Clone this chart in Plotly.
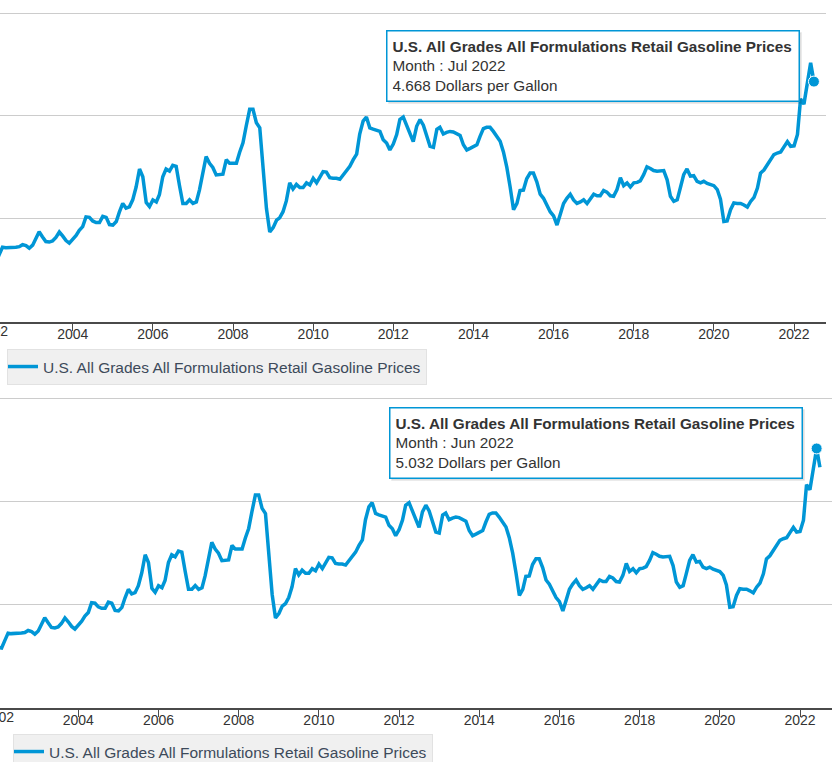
import pandas as pd
import plotly.graph_objects as go

# ---- data (U.S. All Grades All Formulations Retail Gasoline Prices, $/gal, monthly) ----
series_name = "U.S. All Grades All Formulations Retail Gasoline Prices"
start_month = "2002-01-01"
y2002 = [1.17, 1.16, 1.30, 1.45, 1.44, 1.44, 1.45, 1.45, 1.46, 1.50, 1.48, 1.43]
y2003 = [1.49, 1.64, 1.75, 1.65, 1.56, 1.55, 1.57, 1.64, 1.745, 1.67, 1.58, 1.53]
y2004 = [1.60, 1.68, 1.78, 1.85, 2.04, 2.03, 1.96, 1.93, 1.93, 2.05, 2.03, 1.89]
y2005 = [1.88, 1.95, 2.13, 2.30, 2.21, 2.235, 2.37, 2.62, 2.97, 2.82, 2.32, 2.24]
y2006 = [2.37, 2.33, 2.47, 2.82, 2.97, 2.93, 3.04, 3.02, 2.64, 2.30, 2.30, 2.37]
y2007 = [2.30, 2.33, 2.56, 2.90, 3.21, 3.08, 3.00, 2.855, 2.86, 2.87, 3.15, 3.08]
y2008 = [3.08, 3.08, 3.29, 3.48, 3.81, 4.13, 4.13, 3.87, 3.77, 3.05, 2.20, 1.745]
y2009 = [1.83, 1.975, 2.02, 2.14, 2.35, 2.70, 2.58, 2.67, 2.61, 2.61, 2.70, 2.66]
y2010 = [2.79, 2.70, 2.82, 2.92, 2.91, 2.80, 2.79, 2.79, 2.77, 2.85, 2.93, 3.02]
y2011 = [3.15, 3.26, 3.65, 3.90, 3.98, 3.77, 3.745, 3.73, 3.70, 3.54, 3.475, 3.34]
y2012 = [3.455, 3.64, 3.93, 3.98, 3.82, 3.64, 3.50, 3.80, 3.93, 3.82, 3.58, 3.41]
y2013 = [3.39, 3.74, 3.78, 3.65, 3.68, 3.70, 3.69, 3.66, 3.62, 3.44, 3.34, 3.37]
y2014 = [3.41, 3.44, 3.60, 3.755, 3.78, 3.78, 3.70, 3.60, 3.51, 3.30, 3.00, 2.62]
y2015 = [2.18, 2.30, 2.55, 2.56, 2.78, 2.89, 2.89, 2.72, 2.48, 2.40, 2.26, 2.14]
y2016 = [2.06, 1.88, 2.08, 2.30, 2.40, 2.48, 2.37, 2.30, 2.33, 2.37, 2.30, 2.40]
y2017 = [2.48, 2.45, 2.45, 2.55, 2.52, 2.45, 2.44, 2.57, 2.80, 2.645, 2.70, 2.62]
y2018 = [2.70, 2.71, 2.74, 2.86, 3.01, 2.98, 2.94, 2.925, 2.93, 2.94, 2.76, 2.44]
y2019 = [2.34, 2.37, 2.60, 2.86, 2.97, 2.83, 2.84, 2.73, 2.70, 2.73, 2.69, 2.66]
y2020 = [2.645, 2.57, 2.385, 1.95, 1.96, 2.18, 2.31, 2.30, 2.30, 2.27, 2.23, 2.34]
y2021 = [2.42, 2.60, 2.89, 2.95, 3.05, 3.15, 3.25, 3.28, 3.30, 3.40, 3.50, 3.41]
y2022 = [3.42, 3.64, 4.33, 4.23, 4.58, 5.032, 4.668]

values = (y2002 + y2003 + y2004 + y2005 + y2006 + y2007 + y2008 + y2009 + y2010 +
          y2011 + y2012 + y2013 + y2014 + y2015 + y2016 + y2017 + y2018 + y2019 +
          y2020 + y2021 + y2022)
months = pd.date_range(start_month, periods=len(values), freq="MS")

hover_top_idx = len(values) - 1   # Jul 2022
hover_bot_idx = len(values) - 2   # Jun 2022

x_range_top = ["2002-03-09 07:00", "2022-10-19"]
x_range_bot = ["2002-01-17 12:00", "2022-10-19"]
y_range = [0, 6.04]   # a hair above 6 so the top gridline is drawn
y_dtick = 2
clipped_tick = "2002-01-01"

# ---- styles / geometry ----
BLUE = "#0096D6"
FONT = "Liberation Sans, Arial, sans-serif"
W, H = 835, 770
TARGET_H = 762
S = H / TARGET_H          # vertical compensation (page is photographed at 762 tall)

def py(v):                # target pixel row -> layout pixel row
    return v * S

fig = go.Figure()

for xa, ya, lg in (("x", "y", "legend"), ("x2", "y2", "legend2")):
    fig.add_trace(go.Scatter(
        x=months, y=values, mode="lines", name=series_name,
        line=dict(color=BLUE, width=3.5), xaxis=xa, yaxis=ya, legend=lg,
        hoverinfo="skip"))

for xa, ya, idx in (("x", "y", hover_top_idx), ("x2", "y2", hover_bot_idx)):
    fig.add_trace(go.Scatter(
        x=[months[idx]], y=[values[idx]], mode="markers", showlegend=False,
        marker=dict(color=BLUE, size=11, line=dict(color="white", width=1)),
        xaxis=xa, yaxis=ya, hoverinfo="skip", cliponaxis=False))

axis_common = dict(
    type="date", tick0="2000-01-01", dtick="M24", tickformat="%Y",
    showline=True, linecolor="#4a4a4a", linewidth=1.5,
    ticks="outside", ticklen=7, tickcolor="#4a4a4a", tickwidth=1,
    ticklabelstandoff=-8,
    showgrid=False, zeroline=False, automargin=False,
    tickfont=dict(family=FONT, size=14, color="#333333"),
)
yaxis_common = dict(
    range=y_range, dtick=y_dtick, showticklabels=False, showgrid=True,
    gridcolor="#cccccc", gridwidth=1, zeroline=False, showline=False,
    ticks="", automargin=False, fixedrange=True,
)

def y_domain(px_zero, px_six):
    px_zero, px_six = py(px_zero), py(px_six)
    per_unit = (px_zero - px_six) / 6.0
    px_top = px_zero - y_range[1] * per_unit
    return [(H - px_zero) / H, (H - px_top) / H]

top_dom = y_domain(321, 13)
bot_dom = y_domain(706, 397.5)

legend_style = dict(xanchor="left", yanchor="middle", bgcolor="#f0f0f0",
                    bordercolor="#e2e2e2", borderwidth=1, itemwidth=30,
                    indentation=-5,
                    font=dict(family=FONT, size=15.5, color="#3d4a5a"))

fig.update_layout(
    width=W, height=H, margin=dict(l=0, r=0, t=0, b=0),
    paper_bgcolor="white", plot_bgcolor="white",
    font=dict(family=FONT, color="#333333"),
    xaxis=dict(axis_common, domain=[0, 826 / W], range=x_range_top, anchor="y"),
    yaxis=dict(yaxis_common, domain=top_dom, anchor="x"),
    xaxis2=dict(axis_common, domain=[0, 832 / W], range=x_range_bot, anchor="y2"),
    yaxis2=dict(yaxis_common, domain=bot_dom, anchor="x2"),
    legend=dict(legend_style, x=7 / W, y=(H - py(366)) / H),
    legend2=dict(legend_style, x=13 / W, y=(H - py(750)) / H),
)

# clipped "2002" tick labels at the left edge
def paper_frac(date, rng, dom):
    t = pd.Timestamp(date).value
    a, b = pd.Timestamp(rng[0]).value, pd.Timestamp(rng[1]).value
    return dom[0] + (t - a) / (b - a) * (dom[1] - dom[0])

for rng, dom, yref in ((x_range_top, [0, 826 / W], "y"), (x_range_bot, [0, 832 / W], "y2")):
    fig.add_annotation(
        x=paper_frac(clipped_tick, rng, dom), xref="paper", y=0, yref=yref,
        text=pd.Timestamp(clipped_tick).strftime("%Y"), showarrow=False,
        xanchor="center", yanchor="top", yshift=1,
        font=dict(family=FONT, size=14, color="#333333"))

# tooltips
def tip_text(idx):
    return (f"<b>{series_name}</b><br>Month : {months[idx]:%b %Y}"
            f"<br>{values[idx]:.3f} Dollars per Gallon")

for xr, yr, idx, xs, ys in (("x", "y", hover_top_idx, -14, 15.5),
                            ("x2", "y2", hover_bot_idx, -14, 5)):
    common = dict(x=months[idx], y=values[idx], xref=xr, yref=yr, showarrow=False,
                  xanchor="right", yanchor="middle", align="left", valign="middle",
                  borderpad=5, width=401, height=round(58 * S))
    # soft drop shadow (box only, no text)
    fig.add_annotation(**common, text=" ", xshift=xs + 2, yshift=py(ys) - 2,
                       bgcolor="rgba(0,0,0,0.10)", bordercolor="rgba(0,0,0,0.06)",
                       borderwidth=1.5, font=dict(family=FONT, size=15.3))
    fig.add_annotation(**common, text=tip_text(idx), xshift=xs, yshift=py(ys),
                       bgcolor="white", bordercolor=BLUE, borderwidth=1.5,
                       font=dict(family=FONT, size=15.3, color="#333333"))

page_fix = (
    "document.documentElement.style.margin='0px';"
    "document.body.style.margin='0px';"
    "document.documentElement.style.overflow='hidden';"
    "document.body.style.overflow='hidden';"
    "document.querySelectorAll('.svg-container').forEach(function(e){e.style.display='block';});"
)

fig.write_html("out.html", config={"displayModeBar": False}, post_script=page_fix)
